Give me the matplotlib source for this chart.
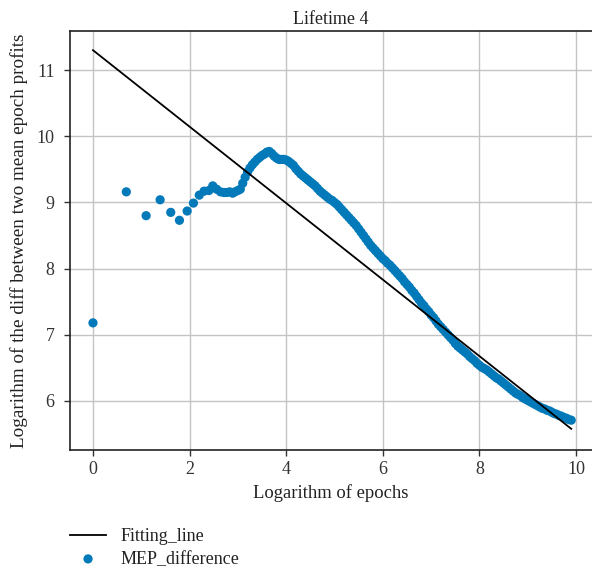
import matplotlib
matplotlib.use("Agg")
import matplotlib.pyplot as plt

# font
plt.rcParams['font.family'] = ['Liberation Serif', 'DejaVu Serif']

# sparse early points (x = log of epochs)
early_x = [0.00, 0.69, 1.10, 1.39, 1.61, 1.79, 1.95, 2.08, 2.20, 2.30,
           2.40, 2.48, 2.56, 2.64, 2.71, 2.77, 2.83, 2.89, 2.94, 3.00]
early_y = [7.18, 9.16, 8.80, 9.04, 8.85, 8.73, 8.87, 8.99, 9.11, 9.17,
           9.18, 9.25, 9.20, 9.16, 9.15, 9.15, 9.16, 9.14, 9.16, 9.18]

# dense part
dense_x = [3.05, 3.10, 3.15, 3.20, 3.25, 3.30, 3.35, 3.40, 3.45, 3.50,
           3.55, 3.60, 3.65, 3.70, 3.75, 3.80, 3.85, 3.90, 3.95, 4.00,
           4.05, 4.10, 4.15, 4.20, 4.25, 4.30, 4.35, 4.40, 4.45, 4.50,
           4.55, 4.60, 4.65, 4.70, 4.75, 4.80, 4.85, 4.90, 4.95, 5.00,
           5.05, 5.10, 5.15, 5.20, 5.25, 5.30, 5.35, 5.40, 5.45, 5.50,
           5.55, 5.60, 5.65, 5.70, 5.75, 5.80, 5.85, 5.90, 5.95, 6.00,
           6.05, 6.10, 6.15, 6.20, 6.25, 6.30, 6.35, 6.40, 6.45, 6.50,
           6.55, 6.60, 6.65, 6.70, 6.75, 6.80, 6.85, 6.90, 6.95, 7.00,
           7.05, 7.10, 7.15, 7.20, 7.25, 7.30, 7.35, 7.40, 7.45, 7.50,
           7.55, 7.60, 7.65, 7.70, 7.75, 7.80, 7.85, 7.90, 7.95, 8.00,
           8.05, 8.10, 8.15, 8.20, 8.25, 8.30, 8.35, 8.40, 8.45, 8.50,
           8.55, 8.60, 8.65, 8.70, 8.75, 8.80, 8.85, 8.90, 8.95, 9.00,
           9.05, 9.10, 9.15, 9.20, 9.25, 9.30, 9.35, 9.40, 9.45, 9.50,
           9.55, 9.60, 9.65, 9.70, 9.75, 9.80, 9.85, 9.90]
dense_y = [9.20, 9.29, 9.38, 9.46, 9.52, 9.57, 9.61, 9.65, 9.68, 9.71,
           9.73, 9.76, 9.77, 9.74, 9.70, 9.67, 9.65, 9.65, 9.65, 9.64,
           9.62, 9.59, 9.56, 9.51, 9.47, 9.43, 9.40, 9.37, 9.34, 9.31,
           9.28, 9.25, 9.21, 9.17, 9.14, 9.11, 9.08, 9.05, 9.03, 9.00,
           8.97, 8.93, 8.89, 8.85, 8.81, 8.77, 8.73, 8.69, 8.65, 8.60,
           8.55, 8.50, 8.45, 8.40, 8.35, 8.31, 8.27, 8.23, 8.19, 8.15,
           8.12, 8.08, 8.05, 8.01, 7.97, 7.93, 7.89, 7.85, 7.80, 7.76,
           7.72, 7.67, 7.63, 7.58, 7.53, 7.48, 7.44, 7.39, 7.35, 7.30,
           7.26, 7.21, 7.16, 7.12, 7.08, 7.04, 7.00, 6.96, 6.92, 6.87,
           6.83, 6.80, 6.77, 6.74, 6.71, 6.67, 6.64, 6.61, 6.57, 6.54,
           6.51, 6.49, 6.47, 6.44, 6.41, 6.38, 6.35, 6.33, 6.30, 6.27,
           6.24, 6.21, 6.18, 6.15, 6.12, 6.10, 6.08, 6.05, 6.03, 6.01,
           5.99, 5.97, 5.95, 5.93, 5.91, 5.89, 5.88, 5.86, 5.85, 5.83,
           5.81, 5.80, 5.78, 5.77, 5.75, 5.74, 5.72, 5.71]

# fitted line end points
fit_x = [0.0, 9.9]
fit_y = [11.3, 5.58]

xticks = [0, 2, 4, 6, 8, 10]
yticks = [6, 7, 8, 9, 10, 11]

fig = plt.figure(figsize=(5.92, 5.73), dpi=100)
ax = fig.add_axes([0.1182, 0.2147, 0.8818, 0.7312])

line, = ax.plot(fit_x, fit_y, color='black', lw=1.3, label='Fitting_line', zorder=3)
sc = ax.scatter(early_x + dense_x, early_y + dense_y, s=44, color='#0279b8',
                edgecolors='none', label='MEP_difference', zorder=2)

ax.set_xlim(-0.476, 10.33)
ax.set_ylim(5.26, 11.59)
ax.set_xticks(xticks)
ax.set_yticks(yticks)
ax.grid(True, color='#c4c4c4', lw=1.0)
ax.set_axisbelow(True)
ax.spines['right'].set_visible(False)
for s in ['left', 'bottom', 'top']:
    ax.spines[s].set_color('#222222')
    ax.spines[s].set_linewidth(1.2)
ax.tick_params(direction='out', length=4, width=1, colors='#333333',
               labelsize=13, pad=4)
ax.tick_params(axis='y', pad=7)

ax.set_title('Lifetime 4', fontsize=13, color='#222222', pad=5)
ax.set_xlabel('Logarithm of epochs', fontsize=13.4, color='#222222', labelpad=4)
ax.set_ylabel('Logarithm of the diff between two mean epoch profits',
              fontsize=13.8, color='#222222', labelpad=6)

leg = fig.legend(handles=[line, sc], loc='upper left',
                 bbox_to_anchor=(0.106, 1 - 521 / 573),
                 frameon=False, fontsize=13, handlelength=2.0, handletextpad=0.8,
                 labelspacing=0.3, borderaxespad=0)
for t in leg.get_texts():
    t.set_color('#222222')

fig.savefig('out.png', dpi=100)
